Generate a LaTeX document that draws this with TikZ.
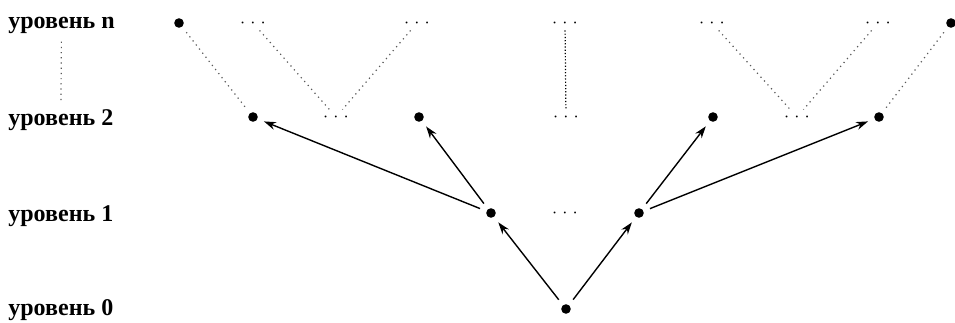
\documentclass[tikz,border=0pt]{standalone}
\usepackage{fontspec}
\setmainfont{Liberation Serif}
\usetikzlibrary{arrows.meta}

\begin{document}
\begin{tikzpicture}[
  x = 0.5pt, y = -0.5pt,
  every node/.style = {inner sep=1.5pt},
  lvl/.style  = {anchor=west, font=\large\bfseries, inner sep=4pt},
  pt/.style   = {circle, fill, inner sep=0pt, minimum size=4.8pt, outer sep=3.5pt},
  gap/.style  = {font=\small},
  arr/.style  = {draw, line width=0.7pt, -{Stealth[length=6pt, width=4pt]}},
  dot/.style  = {draw, black!65, line width=0.6pt, dotted},
]
\useasboundingbox (0,0) rectangle (955,322);

% levels
\node[lvl] (lvn) at (0, 25)  {уровень n};
\node[lvl] (lv2) at (0, 120) {уровень 2};
\node[lvl] (lv1) at (0, 216) {уровень 1};
\node[lvl] (lv0) at (0, 310) {уровень 0};

% level n
\node[pt]  (n1) at (179, 23) {};
\node[gap] (n2) at (253, 23) {${\cdot}\;{\cdot}\;{\cdot}$};
\node[gap] (n3) at (417, 23) {${\cdot}\;{\cdot}\;{\cdot}$};
\node[gap] (n4) at (565, 23) {${\cdot}\;{\cdot}\;{\cdot}$};
\node[gap] (n5) at (712, 23) {${\cdot}\;{\cdot}\;{\cdot}$};
\node[gap] (n6) at (878, 23) {${\cdot}\;{\cdot}\;{\cdot}$};
\node[pt]  (n7) at (951, 23) {};

% level 2
\node[pt]  (a1) at (253, 117) {};
\node[gap] (a2) at (336, 117) {${\cdot}\;{\cdot}\;{\cdot}$};
\node[pt]  (a3) at (419, 117) {};
\node[gap] (a4) at (566, 117) {${\cdot}\;{\cdot}\;{\cdot}$};
\node[pt]  (a5) at (713, 117) {};
\node[gap] (a6) at (797, 117) {${\cdot}\;{\cdot}\;{\cdot}$};
\node[pt]  (a7) at (879, 117) {};

% level 1 and root
\node[pt]  (b1) at (491, 213) {};
\node[gap] (b2) at (565, 213) {${\cdot}\;{\cdot}\;{\cdot}$};
\node[pt]  (b3) at (639, 213) {};
\node[pt]  (r)  at (566, 309) {};

\foreach \p/\c in {lvn/lv2, n1/a1, n2/a2, n3/a2, n5/a6, n6/a6, n7/a7}
  \draw[dot] (\p) -- (\c);
\draw[dot, densely dotted, black] (n4) -- (a4);

\foreach \p/\c in {r/b1, r/b3, b1/a1, b1/a3, b3/a5, b3/a7}
  \draw[arr] (\p) -- (\c);

\end{tikzpicture}
\end{document}
